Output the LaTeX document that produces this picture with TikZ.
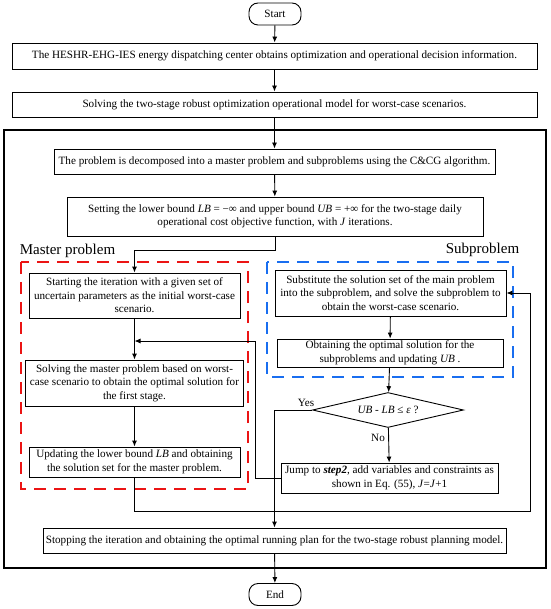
\documentclass[tikz,border=0pt]{standalone}
\usepackage{fontspec}
\setmainfont{Liberation Serif}
\usetikzlibrary{shapes.geometric,arrows.meta}
\definecolor{masterred}{RGB}{235,20,20}
\definecolor{subblue}{RGB}{25,110,240}

\begin{document}
\begin{tikzpicture}[x=1pt,y=-1pt,->,>={Latex[length=6pt,width=5pt]},line width=0.9pt,font=\fontsize{11.15}{13.5}\selectfont]
    \tikzstyle{box}=[draw,rectangle,align=center,inner sep=0pt]
    \tikzstyle{term}=[box,rounded corners=9pt,minimum width=52,minimum height=22]
    \tikzstyle{test}=[draw,diamond,aspect=4,inner sep=0pt,minimum width=151,minimum height=35]
    \tikzstyle{frame}=[-,line width=1.6pt]
    \tikzstyle{group}=[-,line width=1.6pt,dash pattern=on 12pt off 8pt]
    \tikzstyle{grp}=[font=\fontsize{15}{17}\selectfont]
    \tikzstyle{lab}=[font=\fontsize{11.15}{12}\selectfont]

\useasboundingbox (0,0) rectangle (550,609);

\draw[frame] (4,130) rectangle (546,568);
\draw[group,masterred] (21,262) rectangle (248,489);
\draw[group,subblue] (267,262) rectangle (513,377);

\node[grp,anchor=west] (mlab) at (16,251) {Master problem};
\node[grp,anchor=east] (slab) at (523,250) {Subproblem};

\node[term] (start) at (275,14) {Start};
\node[box,minimum width=525,minimum height=26] (a) at (274.5,56) {The HESHR-EHG-IES energy dispatching center obtains optimization and operational decision information.};
\node[box,minimum width=525,minimum height=25] (b) at (274.5,104.5) {Solving the two-stage robust optimization operational model for worst-case scenarios.};
\node[box,minimum width=441,minimum height=25] (c) at (274.5,161.5) {The problem is decomposed into a master problem and subproblems using the C\&CG algorithm.};
\node[box,minimum width=416,minimum height=39] (d) at (275,216.5) {Setting the lower bound \textit{LB} = −∞ and upper bound \textit{UB} = +∞ for the two-stage daily\\ operational cost objective function, with \textit{J} iterations.};

\node[box,minimum width=211,minimum height=45] (m1) at (134.5,295.5) {Starting the iteration with a given set of\\ uncertain parameters as the initial worst-case\\ scenario.};
\node[box,minimum width=218,minimum height=46] (m2) at (134.5,383) {Solving the master problem based on worst-\\case scenario to obtain the optimal solution for\\ the first stage.};
\node[box,minimum width=211,minimum height=30] (m3) at (134.5,462) {Updating the lower bound \textit{LB} and obtaining\\ the solution set for the master problem.};

\node[box,minimum width=231,minimum height=46] (s1) at (390.5,293) {Substitute the solution set of the main problem\\ into the subproblem, and solve the subproblem to\\ obtain the worst-case scenario.};
\node[box,minimum width=226,minimum height=28] (s2) at (390,353) {Obtaining the optimal solution for the\\ subproblems and updating \textit{UB} .};
\node[test] (s3) at (388,410) {\textit{UB} - \textit{LB} ≤ \textit{ε} ?};
\node[box,minimum width=217,minimum height=30] (s4) at (389.5,478) {Jump to \textbf{\textit{step2}}, add variables and constraints as\\ shown in Eq. (55), \textit{J}=\textit{J}+1};

\node[box,minimum width=463,minimum height=25] (e) at (274.5,540.5) {Stopping the iteration and obtaining the optimal running plan for the two-stage robust planning model.};
\node[term] (end) at (275,594.5) {End};

\coordinate (j) at (134.5,341);
\coordinate (r) at (530,511);

\draw (start) -- (a);
\draw (a) -- (b);
\draw (b) -- (c);
\draw (c) -- (d);
\draw (d.south) -- ++(0,14) -| (m1.north);
\draw (m1) -- (m2);
\draw (m2) -- (m3);
\draw (s4.west) -- ++(-25,0) |- (j);
\draw (m3.south) |- (r) |- (s1.east);
\draw (s1) -- (s2);
\draw (s2) -- (s3);
\draw (s3) -- node[lab,pos=0.28,left] {No} (s4);
\draw (s3.west) -| node[lab,pos=0.08,above] {Yes} (e.north);
\draw (e) -- (end);
\end{tikzpicture}
\end{document}
